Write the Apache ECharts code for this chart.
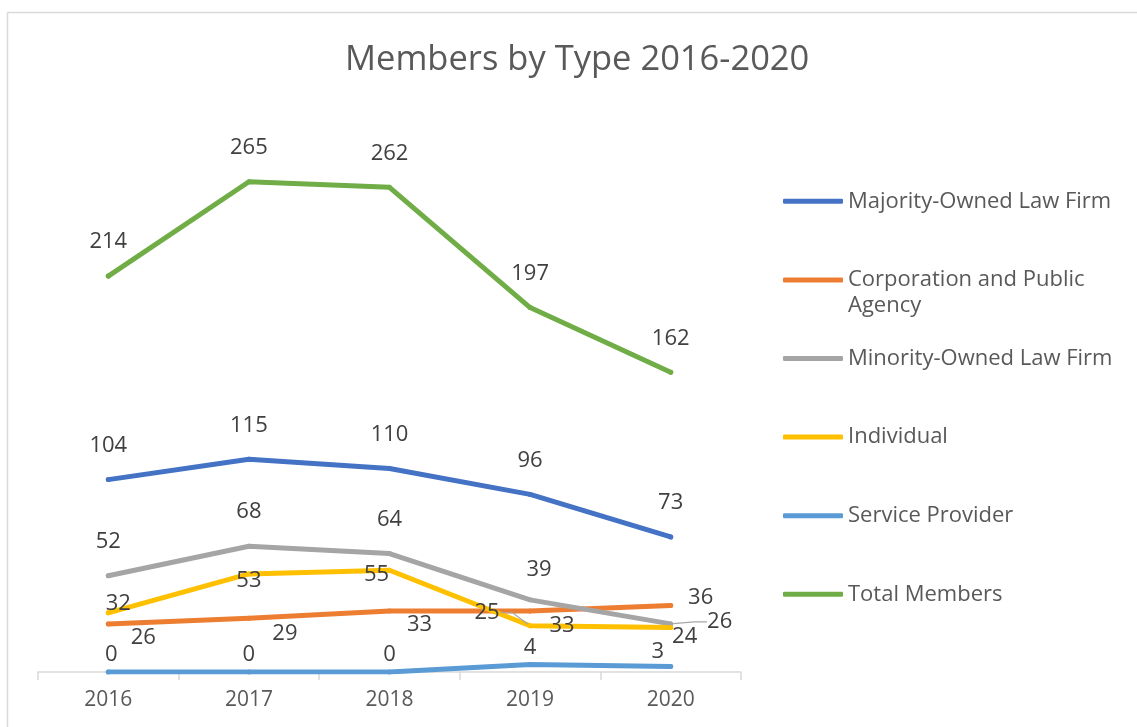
<!DOCTYPE html>
<html>
<head>
<meta charset="utf-8">
<title>Members by Type 2016-2020</title>
<script src="https://cdn.jsdelivr.net/npm/echarts@6.0.0/dist/echarts.min.js"></script>
<style>
  html, body { margin: 0; padding: 0; background: #fff; }
  #chart { width: 1137px; height: 727px; }
</style>
</head>
<body>
<div id="chart"></div>
<script>
// data
const years = ["2016", "2017", "2018", "2019", "2020"];
const seriesNames = [
  "Majority-Owned Law Firm",
  "Corporation and Public Agency",
  "Minority-Owned Law Firm",
  "Individual",
  "Service Provider",
  "Total Members"
];
const majorityOwned = [104, 115, 110, 96, 73];
const corporation = [26, 29, 33, 33, 36];
const minorityOwned = [52, 68, 64, 39, 26];
const individual = [32, 53, 55, 25, 24];
const serviceProvider = [0, 0, 0, 4, 3];
const totalMembers = [214, 265, 262, 197, 162];

const colors = ["#4472C4", "#ED7D31", "#A5A5A5", "#FFC000", "#5B9BD5", "#70AD47"];

// label placement, [dx, dy] from the point to the label centre
const labelOffsets = [
  [[0, -34], [0, -34], [0, -34], [0, -34], [0, -34]],
  [[35, 14], [36, 15], [30, 14], [32, 15], [30, -8]],
  [[0, -34], [0, -34], [0, -34], [9, -30], [49, -2]],
  [[10, -9], [0, 7], [-13, 4], [-43, -13], [14, 9]],
  [[3, -17], [0, -17], [0, -17], [0, -17], [-13, -15]],
  [[0, -34], [0, -34], [0, -34], [0, -34], [0, -34]]
];
// which labels get a leader line
const leaders = [
  [], [], [4], [3], [], []
];

const allValues = [majorityOwned, corporation, minorityOwned, individual, serviceProvider, totalMembers];

const chart = echarts.init(document.getElementById("chart"));

const series = allValues.map((values, s) => ({
  name: seriesNames[s],
  type: "line",
  data: values.map((v, i) => ({
    value: v,
    labelLine: { show: leaders[s].indexOf(i) >= 0 }
  })),
  color: colors[s],
  symbol: "circle",
  symbolSize: 5,
  showSymbol: true,
  itemStyle: { color: colors[s] },
  lineStyle: { width: 5, color: colors[s], cap: "round", join: "round" },
  label: {
    show: true,
    position: "inside",
    color: "#404040",
    fontSize: 22,
    fontFamily: "Open Sans"
  },
  labelLine: {
    show: false,
    length2: 13,
    lineStyle: { color: "#a6a6a6", width: 1.2 }
  },
  labelLayout: function (params) {
    const off = labelOffsets[s][params.dataIndex];
    return { dx: off[0], dy: off[1] };
  },
  emphasis: { disabled: true },
  animation: false,
  z: s === 5 ? 3 : 2
}));

chart.setOption({
  backgroundColor: "#fff",
  animation: false,
  textStyle: { fontFamily: "Open Sans" },
  title: {
    text: "Members by Type 2016-2020",
    left: 345,
    top: 36,
    padding: 0,
    textStyle: {
      color: "#595959",
      fontSize: 34.5,
      fontWeight: "normal",
      fontFamily: "Open Sans",
      lineHeight: 48
    }
  },
  legend: {
    orient: "vertical",
    left: 783,
    top: 162,
    padding: 0,
    itemGap: 0,
    itemWidth: 60,
    itemHeight: 5,
    icon: "roundRect",
    data: seriesNames,
    formatter: function (name) {
      if (name === "Corporation and Public Agency") {
        return "\nCorporation and Public\nAgency";
      }
      return "\n" + name + "\n";
    },
    textStyle: {
      color: "#595959",
      fontSize: 22,
      lineHeight: 26.2,
      fontFamily: "Open Sans"
    }
  },
  grid: {
    left: 38,
    right: 396,
    top: 117,
    bottom: 55,
    containLabel: false
  },
  xAxis: {
    type: "category",
    data: years,
    boundaryGap: true,
    axisLine: { lineStyle: { color: "#d9d9d9", width: 1.5 } },
    axisTick: { show: true, length: 8, lineStyle: { color: "#d9d9d9", width: 1.5 } },
    axisLabel: { color: "#595959", fontSize: 21, margin: 18, fontFamily: "Open Sans" },
    splitLine: { show: false }
  },
  yAxis: {
    type: "value",
    min: 0,
    max: 300,
    show: false
  },
  graphic: [
    {
      type: "line",
      silent: true,
      shape: { x1: 7.5, y1: 12.5, x2: 1137, y2: 12.5 },
      style: { stroke: "#d9d9d9", lineWidth: 1.5 }
    },
    {
      type: "line",
      silent: true,
      shape: { x1: 7.5, y1: 12.5, x2: 7.5, y2: 727 },
      style: { stroke: "#d9d9d9", lineWidth: 1.5 }
    }
  ],
  series: series
});
</script>
</body>
</html>
